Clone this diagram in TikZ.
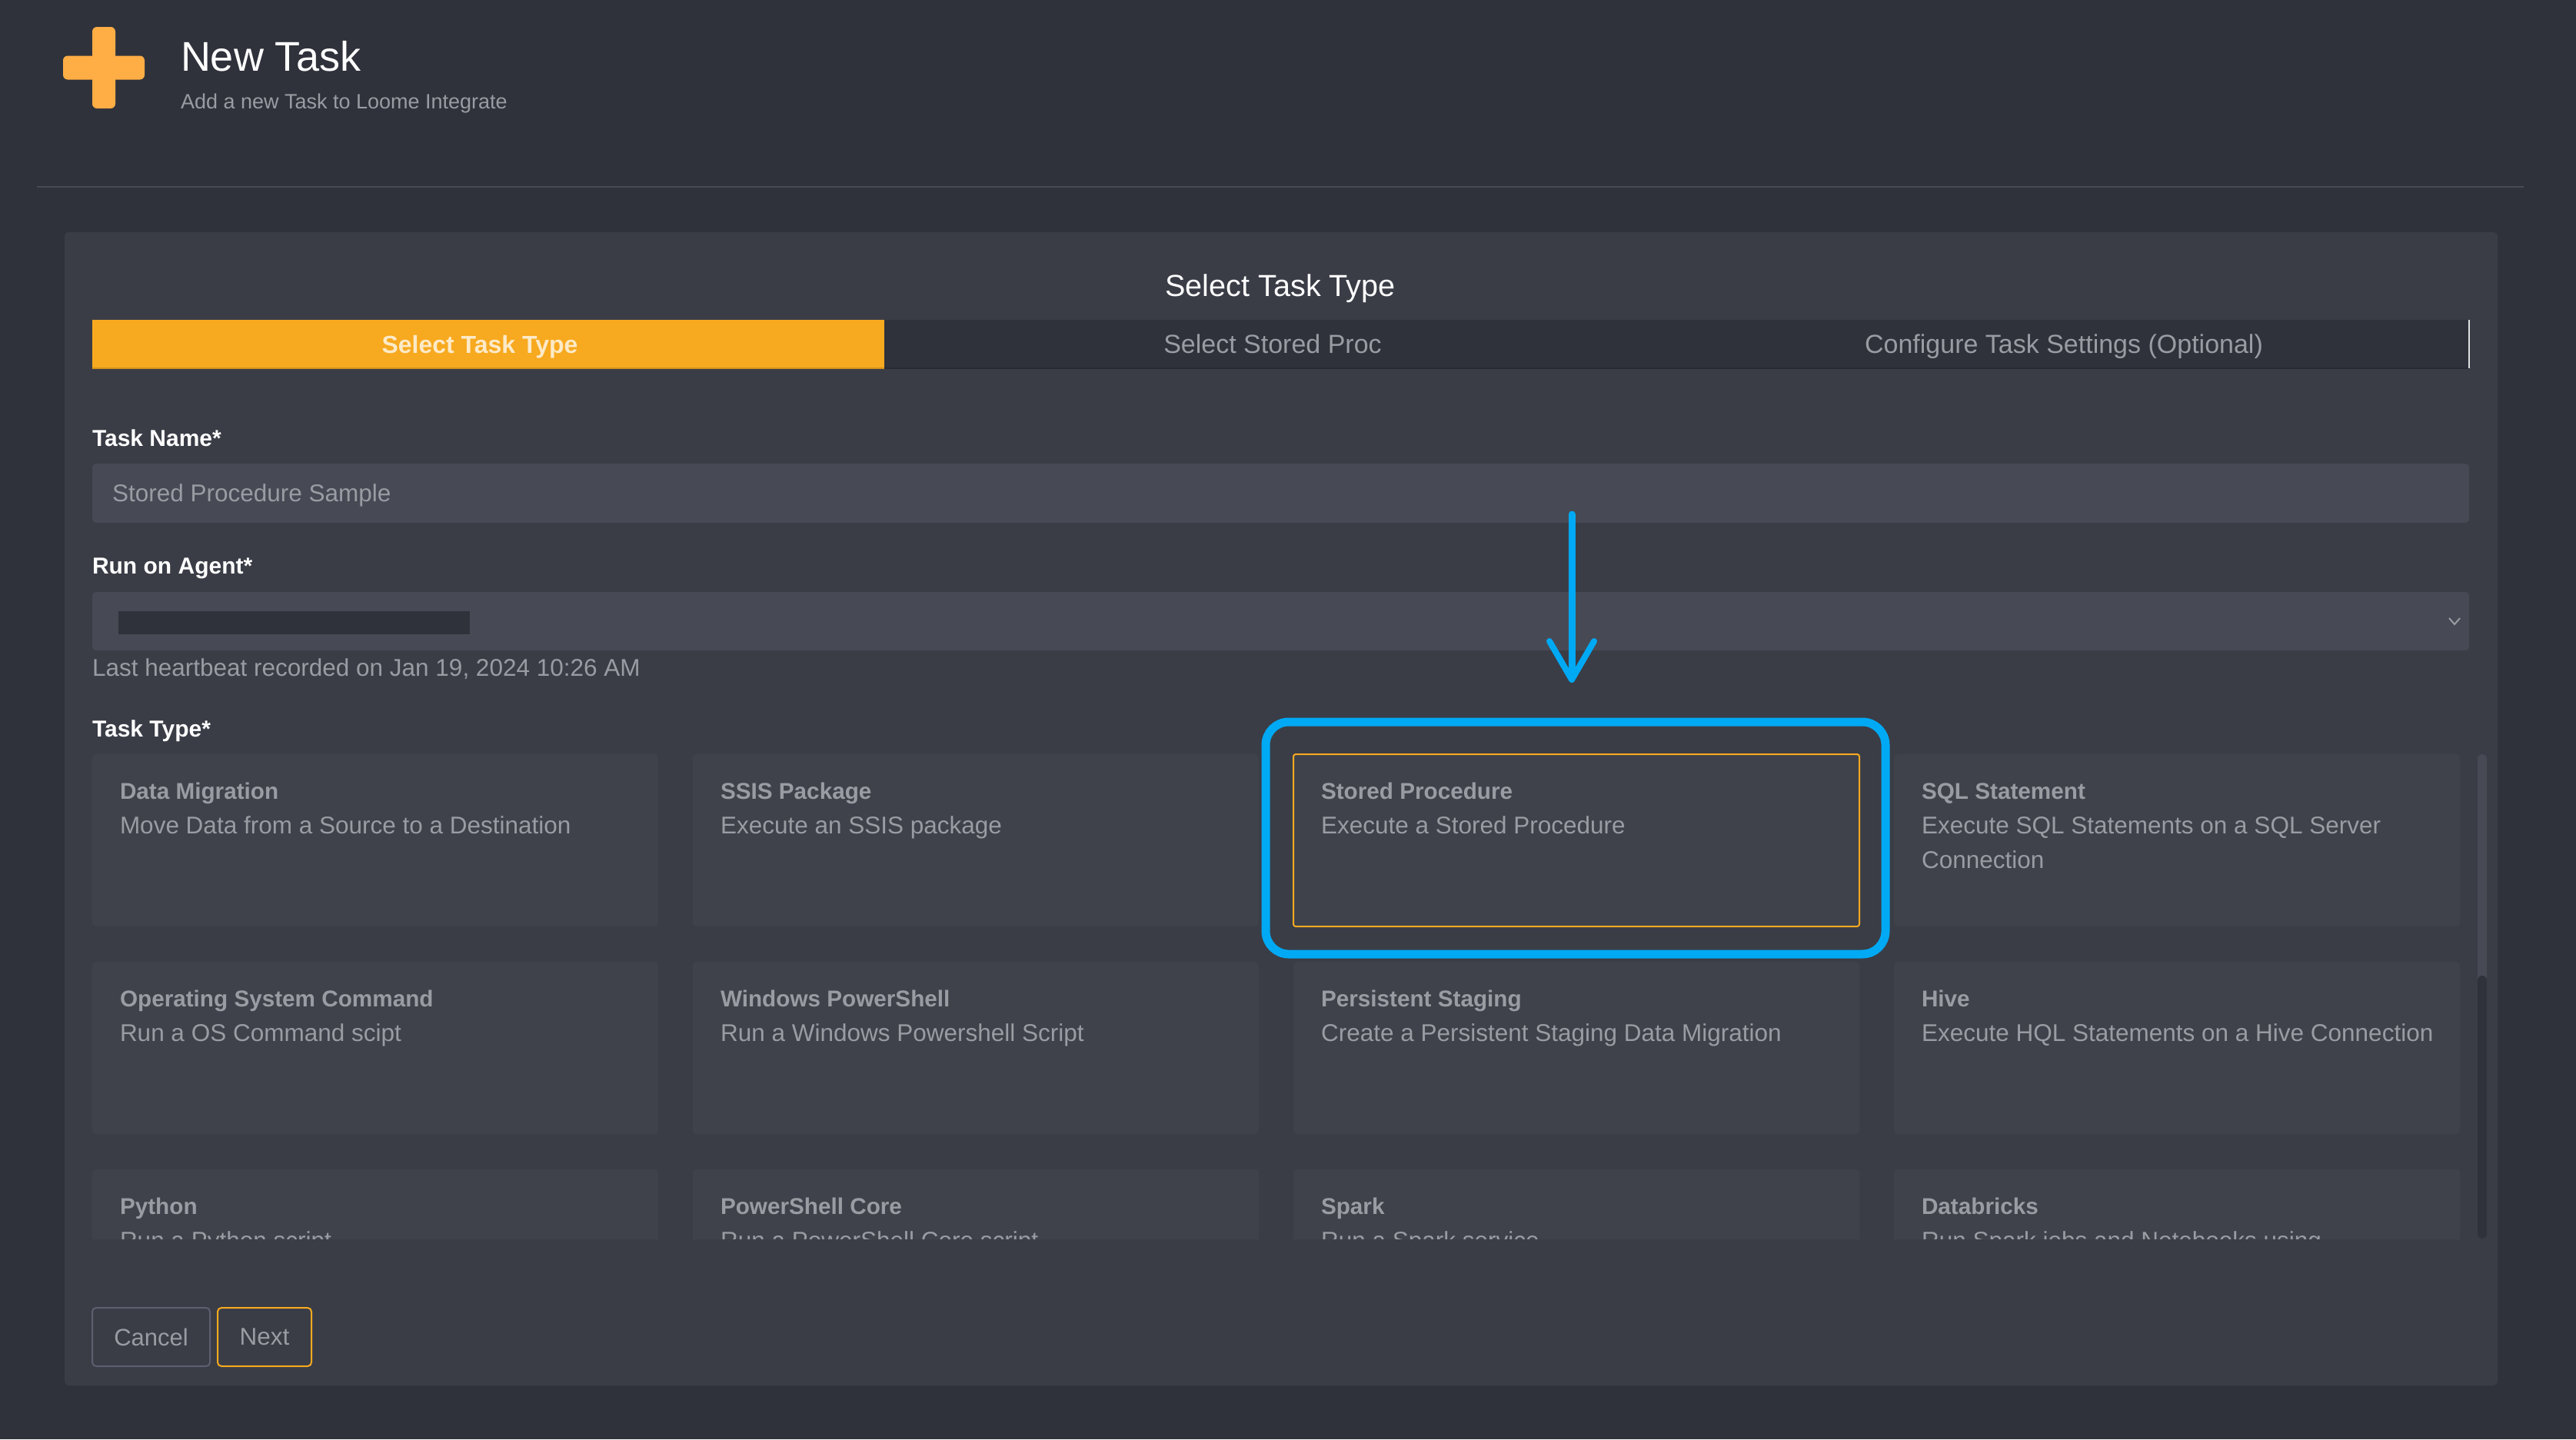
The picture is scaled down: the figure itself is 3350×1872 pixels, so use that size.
\documentclass[tikz,border=0pt]{standalone}
\usepackage{fontspec}
\setmainfont{Liberation Sans}
\usetikzlibrary{arrows.meta}
\definecolor{pagebg}{HTML}{2F323B}
\definecolor{panelbg}{HTML}{3A3D46}
\definecolor{fieldbg}{HTML}{474A54}
\definecolor{cardbg}{HTML}{3F424B}
\definecolor{tabbg}{HTML}{2F323B}
\definecolor{orangec}{HTML}{F7A91F}
\definecolor{plusc}{HTML}{FFAD45}
\definecolor{bluec}{HTML}{00A9F4}
\definecolor{greyc}{HTML}{9A9CA3}
\definecolor{btnc}{HTML}{5C5F70}
\begin{document}
\begin{tikzpicture}
[x=1pt,y=-1pt,
every node/.style={inner sep=0,outer sep=0},
box/.style={anchor=north west,rounded corners=5},
txt/.style={anchor=base west,text=greyc,font=\fontsize{31.5}{36}\selectfont},
ttl/.style={anchor=base west,text=greyc,font=\fontsize{29.7}{36}\selectfont\bfseries},
lbl/.style={anchor=base west,text=white,font=\fontsize{30}{36}\selectfont\bfseries},
tab/.style={anchor=base,text=greyc,font=\fontsize{34}{38}\selectfont},
card/.style={box,fill=cardbg,minimum width=736,minimum height=224}]
\useasboundingbox (0,0) rectangle (3350,1872);
\fill[pagebg] (0,0) rectangle (3350,1872);
\node[rectangle,fill=plusc,rounded corners=6,minimum width=106,minimum height=31] (plush) at (135,88) {};
\node[rectangle,fill=plusc,rounded corners=6,minimum width=30,minimum height=106] (plusv) at (135,88) {};
\node[anchor=base west,text=white,font=\fontsize{54}{60}\selectfont] (title) at (235,92) {New Task};
\node[txt,font=\fontsize{27}{32}\selectfont] (subtitle) at (235,141) {Add a new Task to Loome Integrate};
\draw[color=fieldbg,line width=2] (48,243) -- (3282,243);
\node[box,fill=panelbg,minimum width=3164,minimum height=1500] (panel) at (84,302) {};
\node[anchor=base,text=white,font=\fontsize{39.6}{46}\selectfont] (head) at (1665,385) {Select Task Type};
\node[box,rounded corners=0,fill=tabbg,minimum width=3091,minimum height=63] (tabbar) at (120,416) {};
\node[box,rounded corners=0,fill=orangec,minimum width=1030,minimum height=63] (tab1) at (120,416) {};
\draw[color=tabbg!85!black,line width=2] (tab1.south east) -- (tabbar.south east);
\draw[color=orangec!85!black,line width=2] (tab1.south west) -- (tab1.south east);
\draw[color=white!85!tabbg,line width=2] (tabbar.north east) -- (tabbar.south east);
\node[tab,text=white!75!orangec,font=\fontsize{32}{36}\selectfont\bfseries] (tabtxt1) at (624,459) {Select Task Type};
\node[tab] (tabtxt2) at (1655,459) {Select Stored Proc};
\node[tab] (tabtxt3) at (2684,459) {Configure Task Settings (Optional)};
\node[lbl] (namelbl) at (120,580) {Task Name*};
\node[box,fill=fieldbg,minimum width=3091,minimum height=77] (namefield) at (120,603) {};
\node[txt] (nametxt) at (146,652) {Stored Procedure Sample};
\node[lbl] (agentlbl) at (120,746) {Run on Agent*};
\node[box,fill=fieldbg,minimum width=3091,minimum height=76] (agentfield) at (120,770) {};
\node[box,rounded corners=0,fill=pagebg,minimum width=457,minimum height=30] (redact) at (154,795) {};
\draw[color=greyc,line width=2] (3185,804) -- (3192,812) -- (3199,804);
\node[txt] (beat) at (120,879) {Last heartbeat recorded on Jan 19, 2024 10:26 AM};
\node[lbl] (typelbl) at (120,958) {Task Type*};
\begin{scope}
\clip (120,981) rectangle (3211,1611);
\foreach \n/\x/\y/\a/\b in {
1/120/981/Data Migration/Move Data from a Source to a Destination,
2/901/981/SSIS Package/Execute an SSIS package,
3/1682/981/Stored Procedure/Execute a Stored Procedure,
4/2463/981/SQL Statement/Execute SQL Statements on a SQL Server,
5/120/1251/Operating System Command/Run a OS Command scipt,
6/901/1251/Windows PowerShell/Run a Windows Powershell Script,
7/1682/1251/Persistent Staging/Create a Persistent Staging Data Migration,
8/2463/1251/Hive/Execute HQL Statements on a Hive Connection,
9/120/1521/Python/Run a Python script,
10/901/1521/PowerShell Core/Run a PowerShell Core script,
11/1682/1521/Spark/Run a Spark service,
12/2463/1521/Databricks/Run Spark jobs and Notebooks using}
{
\node[card] (c\n) at (\x,\y) {};
\node[ttl] (t\n) at (\x+36,\y+58) {\a};
\node[txt] (d\n) at (\x+36,\y+103) {\b};
}
\node[txt] (d4b) at (2499,1129) {Connection};
\end{scope}
\draw[color=orangec,line width=2,rounded corners=3] (c3.north west) rectangle (c3.south east);
\draw[color=fieldbg,line width=12,line cap=round] (3228,987) -- (3228,1275);
\draw[color=pagebg,line width=12,line cap=round] (3228,1275) -- (3228,1605);
\node[box,draw=btnc,line width=2,text=greyc,minimum width=153,minimum height=76,font=\fontsize{31}{36}\selectfont] (cancel) at (120,1701) {Cancel};
\node[box,draw=orangec,line width=2,text=greyc,minimum width=122,minimum height=76,font=\fontsize{31.5}{36}\selectfont] (next) at (283,1701) {Next};
\node[box,draw=bluec,line width=11,rounded corners=30,minimum width=806,minimum height=302] (mark) at (1646,939) {};
\coordinate (from) at (2044,669);
\coordinate (to) at (2044,888);
\draw[color=bluec,line width=9,line cap=round,-{Straight Barb[length=50,width=58,line width=8,round]}] (from) -- (to);
\end{tikzpicture}
\end{document}
